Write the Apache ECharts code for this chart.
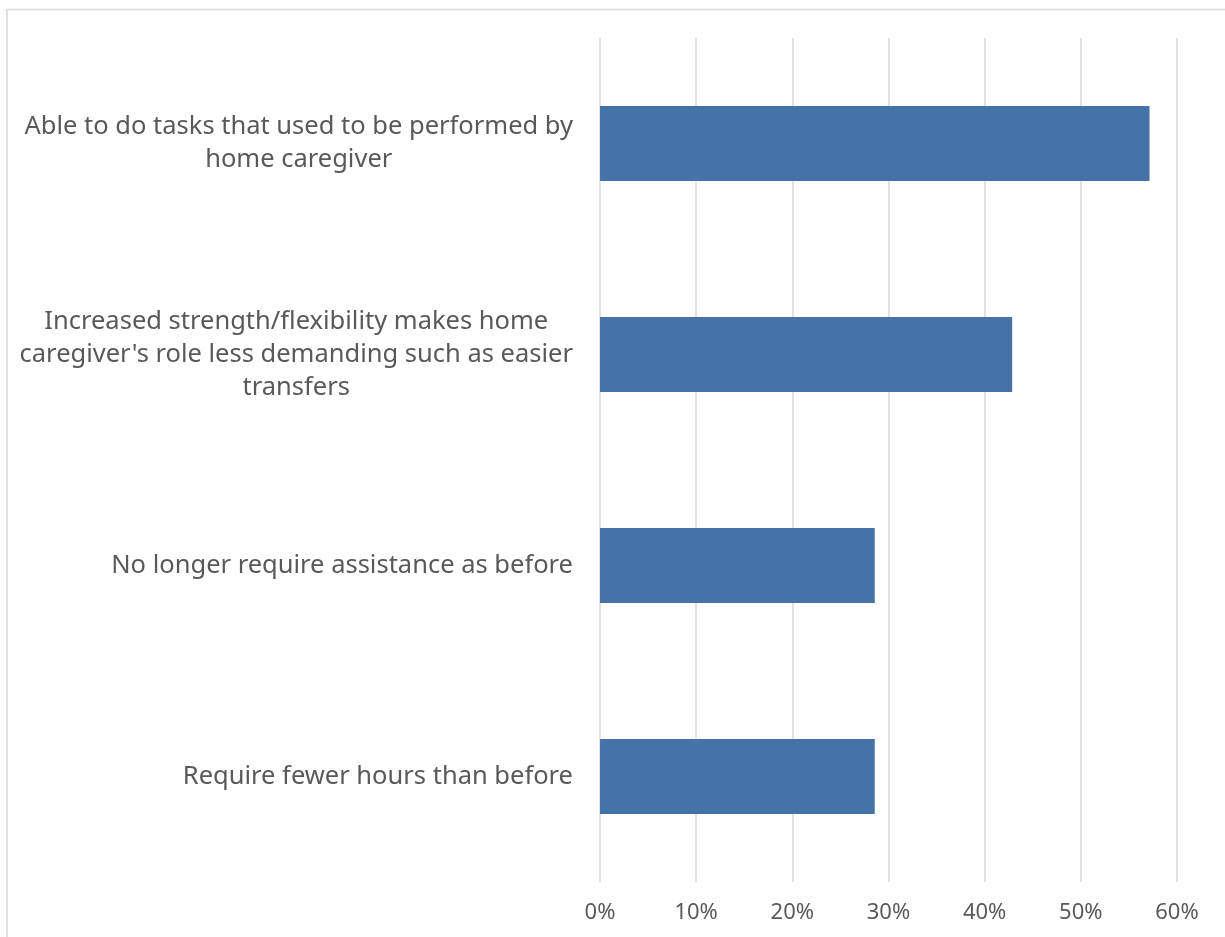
<!DOCTYPE html>
<html>
<head>
<meta charset="utf-8">
<script src="https://cdn.jsdelivr.net/npm/echarts@6/dist/echarts.min.js"></script>
<style>
  html, body { margin: 0; padding: 0; background: #fff; }
  #chart { width: 1225px; height: 937px; }
</style>
</head>
<body>
<div id="chart"></div>
<script>
const categories = [
  'Able to do tasks that used to be performed by\nhome caregiver',
  "Increased strength/flexibility makes home\ncaregiver's role less demanding such as easier\ntransfers",
  'No longer require assistance as before',
  'Require fewer hours than before'
]
const values = [57.14, 42.86, 28.57, 28.57]

const chart = echarts.init(document.getElementById('chart'))

// each line centred inside the label block, block right-aligned to the axis
const centreLines = (v) => v.split('\n').map(l => '{c|' + l + '}').join('\n')

chart.setOption({
  animation: false,
  textStyle: { fontFamily: 'Noto Sans' },
  graphic: [{
    type: 'rect',
    shape: { x: 7, y: 9.5, width: 1300, height: 1000 },
    style: { fill: 'none', stroke: '#d9d9d9', lineWidth: 1.5 }
  }],
  grid: { left: 600, right: 48, top: 38, bottom: 55 },
  xAxis: {
    type: 'value',
    min: 0,
    max: 60,
    interval: 10,
    axisLine: { show: false },
    axisTick: { show: false },
    axisLabel: {
      formatter: '{value}%',
      color: '#595959',
      fontSize: 22,
      margin: 20
    },
    splitLine: { lineStyle: { color: '#d9d9d9', width: 1.5 } }
  },
  yAxis: {
    type: 'category',
    inverse: true,
    data: categories,
    axisLine: { show: false },
    axisTick: { show: false },
    axisLabel: {
      align: 'right',
      margin: 27,
      formatter: centreLines,
      rich: {
        c: {
          align: 'center',
          color: '#595959',
          fontSize: 25.5,
          lineHeight: 33,
          fontFamily: 'Noto Sans'
        }
      }
    }
  },
  series: [{
    type: 'bar',
    data: values,
    barWidth: 75,
    itemStyle: { color: '#4673a7' }
  }]
})
</script>
</body>
</html>
